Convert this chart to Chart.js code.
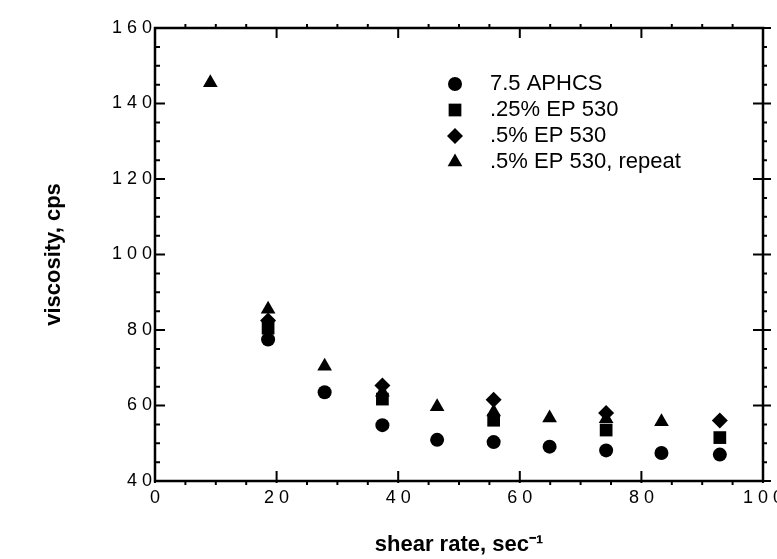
<!DOCTYPE html>
<html>
<head>
<meta charset="utf-8">
<script src="https://cdn.jsdelivr.net/npm/chart.js@4.4.0/dist/chart.umd.min.js"></script>
<style>
  html, body { margin: 0; padding: 0; background: #fff; }
  #wrap { width: 777px; height: 559px; }
</style>
</head>
<body>
<div id="wrap"><canvas id="chart" width="777" height="559"></canvas></div>
<script>
// values (shear rate in sec-1, viscosity in cps)
var seriesNames = ['7.5 APHCS', '.25% EP 530', '.5% EP 530', '.5% EP 530, repeat'];
var seriesShapes = ['circle', 'rect', 'rectRot', 'triangle'];
var seriesRadius = [7, 9, 8, 8.5];

var aphcsX = [18.6, 27.9, 37.4, 46.4, 55.7, 64.9, 74.2, 83.3, 92.9];
var aphcsY = [77.5, 63.5, 54.8, 50.9, 50.3, 49.1, 48.1, 47.4, 47.0];

var ep25X = [18.6, 37.4, 55.7, 74.2, 92.9];
var ep25Y = [80.5, 61.7, 56.1, 53.5, 51.5];

var ep5X = [18.6, 37.4, 55.7, 74.2, 92.9];
var ep5Y = [82.5, 65.3, 61.5, 58.0, 56.0];

var repeatX = [9.1, 18.6, 27.9, 37.4, 46.4, 55.7, 64.9, 74.2, 83.3];
var repeatY = [145.5, 85.5, 70.4, 63.5, 59.7, 58.3, 56.7, 56.5, 55.7];

var xTicks = [0, 20, 40, 60, 80, 100];
var yTicks = [40, 60, 80, 100, 120, 140, 160];

function toPoints(xs, ys) {
    return xs.map(function (x, i) { return { x: x, y: ys[i] }; });
}

var allX = [aphcsX, ep25X, ep5X, repeatX];
var allY = [aphcsY, ep25Y, ep5Y, repeatY];

var datasets = seriesNames.map(function (name, i) {
    return {
        label: name,
        data: toPoints(allX[i], allY[i]),
        pointStyle: seriesShapes[i],
        pointRadius: seriesRadius[i],
        backgroundColor: '#000',
        borderColor: '#000',
        borderWidth: 0
    };
});
// draw triangles first so the other markers sit on top like in the scan
datasets.reverse();

function spaced(v) {
    return String(v).split('').join(' ');
}

// frame + tick marks on all four sides
var framePlugin = {
    id: 'frame',
    afterDatasetsDraw: function (chart) {
        var ctx = chart.ctx, a = chart.chartArea;
        var xs = chart.scales.x, ys = chart.scales.y;
        ctx.save();
        ctx.strokeStyle = '#000';
        ctx.lineWidth = 2.5;
        ctx.strokeRect(a.left, a.top, a.right - a.left, a.bottom - a.top);
        ctx.lineWidth = 2;
        for (var v = 0; v <= 100; v += 5) {
            var px = xs.getPixelForValue(v);
            var major = v % 20 === 0;
            ctx.beginPath();
            if (major) {
                ctx.moveTo(px, a.bottom + 2); ctx.lineTo(px, a.bottom - 10);
                ctx.moveTo(px, a.top); ctx.lineTo(px, a.top + 10);
            } else {
                ctx.moveTo(px, a.bottom); ctx.lineTo(px, a.bottom + 4);
                ctx.moveTo(px, a.top); ctx.lineTo(px, a.top - 4);
            }
            ctx.stroke();
        }
        for (var w = 40; w <= 160; w += 5) {
            var py = ys.getPixelForValue(w);
            var big = w % 20 === 0;
            ctx.beginPath();
            ctx.moveTo(a.left, py); ctx.lineTo(a.left + (big ? 10 : 5), py);
            if (big) {
                ctx.moveTo(a.right - 10, py); ctx.lineTo(a.right + 8, py);
            } else {
                ctx.moveTo(a.right, py); ctx.lineTo(a.right + 4, py);
            }
            ctx.stroke();
        }
        ctx.restore();
    }
};

// legend drawn inside the plot, top right
var legendPlugin = {
    id: 'insideLegend',
    afterDraw: function (chart) {
        var ctx = chart.ctx;
        var markerX = 455, textX = 490, rowY = 84, rowGap = 26;
        ctx.save();
        ctx.fillStyle = '#000';
        ctx.font = '22px "Liberation Sans", Arial, sans-serif';
        ctx.textBaseline = 'middle';
        seriesNames.forEach(function (name, i) {
            var y = rowY + i * rowGap;
            Chart.helpers.drawPoint(ctx, {
                pointStyle: seriesShapes[i],
                radius: seriesRadius[i],
                borderWidth: 0
            }, markerX, y);
            ctx.fillText(name, textX, y);
        });
        ctx.restore();
    }
};

new Chart(document.getElementById('chart').getContext('2d'), {
    type: 'scatter',
    data: { datasets: datasets },
    options: {
        responsive: false,
        maintainAspectRatio: false,
        animation: false,
        layout: { padding: { left: 0, right: 14, top: 28, bottom: 0 } },
        plugins: {
            legend: { display: false },
            tooltip: { enabled: false }
        },
        scales: {
            x: {
                type: 'linear',
                min: 0, max: 100,
                afterBuildTicks: function (s) { s.ticks = xTicks.map(function (v) { return { value: v }; }); },
                afterFit: function (s) { s.height = 78; s.paddingLeft = 0; s.paddingRight = 0; },
                grid: { display: false, drawTicks: false },
                border: { display: false },
                ticks: {
                    autoSkip: false, maxRotation: 0, padding: 6,
                    color: '#000',
                    font: { family: '"Liberation Sans", Arial, sans-serif', size: 18 },
                    callback: function (v) { return spaced(v); }
                },
                title: {
                    display: true,
                    text: 'shear rate, sec\u207B\u00B9',
                    color: '#000',
                    font: { family: '"Liberation Sans", Arial, sans-serif', size: 22, weight: 'bold' },
                    padding: { top: 0, bottom: 1 }
                }
            },
            y: {
                type: 'linear',
                min: 40, max: 160,
                afterBuildTicks: function (s) { s.ticks = yTicks.map(function (v) { return { value: v }; }); },
                afterFit: function (s) { s.width = 155; s.paddingTop = 0; s.paddingBottom = 0; },
                grid: { display: false, drawTicks: false },
                border: { display: false },
                ticks: {
                    autoSkip: false, padding: 3,
                    color: '#000',
                    font: { family: '"Liberation Sans", Arial, sans-serif', size: 18 },
                    callback: function (v) { return spaced(v); }
                },
                title: {
                    display: true,
                    text: 'viscosity, cps',
                    color: '#000',
                    font: { family: '"Liberation Sans", Arial, sans-serif', size: 22, weight: 'bold' },
                    padding: { top: 41, bottom: 0 }
                }
            }
        }
    },
    plugins: [framePlugin, legendPlugin]
});
</script>
</body>
</html>
